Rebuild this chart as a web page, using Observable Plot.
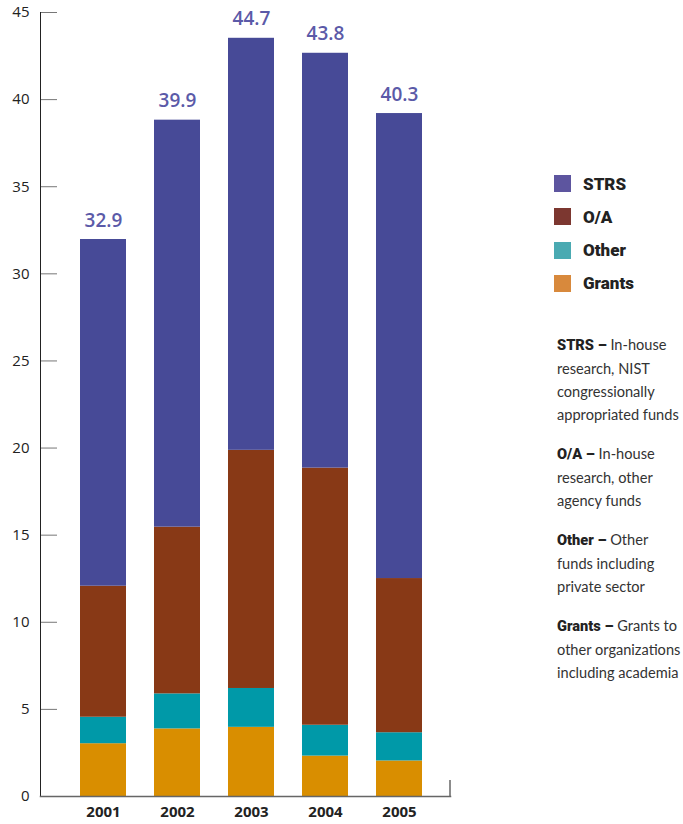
<!DOCTYPE html>
<html><head><meta charset="utf-8">
<script src="https://cdn.jsdelivr.net/npm/d3@7"></script>
<script src="https://cdn.jsdelivr.net/npm/@observablehq/plot@0.6"></script>
<style>
body{margin:0;background:#fff;}
#wrap{position:relative;width:683px;height:824px;overflow:hidden;}
#chart{position:absolute;left:0;top:0;}
#legend{position:absolute;left:554px;top:175px;font-family:Roboto,"Open Sans",sans-serif;}
.lrow{display:flex;align-items:center;height:17px;margin-bottom:16.3px;}
.sw{width:17px;height:17px;margin-right:12px;}
.lt{font-weight:900;font-size:17px;color:#222;}
#notes{position:absolute;left:557px;top:333px;font-family:Lato,"Open Sans",sans-serif;font-size:14.6px;line-height:23px;color:#333;}
.note{margin-bottom:16px;}
.note b{font-family:Roboto,sans-serif;font-weight:900;color:#222;}
</style></head><body>
<div id="wrap"><div id="chart"></div><div id="legend"></div><div id="notes"></div></div>
<script>
const years = ["2001", "2002", "2003", "2004", "2005"];
const grants = [3.03, 3.88, 3.97, 2.32, 2.04];
const other = [1.52, 2.01, 2.23, 1.77, 1.62];
const oa = [7.52, 9.57, 13.67, 14.76, 8.85];
const strs = [19.9, 23.36, 23.65, 23.81, 26.69];
const totalLabels = ["32.9", "39.9", "44.7", "43.8", "40.3"];
const categories = ["Grants", "Other", "O/A", "STRS"];
const barColors = ["#d98e00", "#0099a8", "#883916", "#474a97"];
const legendOrder = ["STRS", "O/A", "Other", "Grants"];
const legendColors = ["#5d559f", "#7c3730", "#4aaab2", "#d8893c"];
const yTicks = [0, 5, 10, 15, 20, 25, 30, 35, 40, 45];
const noteKeys = ["STRS", "O/A", "Other", "Grants"];
const noteLines = [
  ["In-house", "research, NIST", "congressionally", "appropriated funds"],
  ["In-house", "research, other", "agency funds"],
  ["Other", "funds including", "private sector"],
  ["Grants to", "other organizations", "including academia"]
];

const series = [grants, other, oa, strs];
const rows = years.flatMap((yr, i) => categories.map((c, j) => ({year: yr, cat: c, v: series[j][i]})));
const totals = years.map((yr, i) => ({year: yr, total: grants[i] + other[i] + oa[i] + strs[i], label: totalLabels[i]}));

const endTick = (index, scales, values, dims) => {
  const x = dims.width - dims.marginRight;
  const y = dims.height - dims.marginBottom;
  return d3.create("svg:line").attr("x1", x).attr("x2", x).attr("y1", y - 16).attr("y2", y)
    .attr("stroke", "#666").attr("stroke-width", 1.5).node();
};

const chart = Plot.plot({
  width: 452, height: 824,
  marginLeft: 40, marginRight: 2, marginTop: 12, marginBottom: 28,
  style: {fontFamily: "'Open Sans', sans-serif", fontSize: "15px", color: "#222", background: "transparent"},
  x: {domain: years, paddingInner: 0.378, paddingOuter: 0.459, align: 0.588, label: null},
  y: {domain: [0, 45], label: null},
  color: {domain: categories, range: barColors},
  marks: [
    Plot.barY(rows, {x: "year", y: "v", fill: "cat", order: categories,
      style: "filter: drop-shadow(-4px 3px 3px rgba(0,0,0,0.28))"}),
    Plot.text(totals, {x: "year", y: "total", text: "label", dy: -19, fill: "#5b5aa8",
      fontSize: 19, fontWeight: 600, fontFamily: "'Open Sans', sans-serif", style: "letter-spacing:2.3px"}),
    Plot.axisY({ticks: yTicks, tickSize: -17, tickPadding: 28, stroke: "#777", fill: "#222", fontSize: 15, fontWeight: 500}),
    Plot.axisX({tickSize: 0, tickPadding: 10, fontWeight: "bold", fill: "#222", fontSize: 15}),
    Plot.frame({anchor: "left", stroke: "#222"}),
    Plot.frame({anchor: "bottom", stroke: "#666", strokeWidth: 1.5}),
    endTick
  ]
});
document.getElementById("chart").append(chart);

const legend = d3.select("#legend");
legendOrder.forEach((k, i) => {
  const r = legend.append("div").attr("class", "lrow");
  r.append("div").attr("class", "sw").style("background", legendColors[i]);
  r.append("div").attr("class", "lt").text(k);
});
const notes = d3.select("#notes");
noteKeys.forEach((k, i) => {
  const n = notes.append("div").attr("class", "note");
  noteLines[i].forEach((line, j) => {
    const d = n.append("div");
    if (j === 0) { d.append("b").text(k + " \u2013"); d.append("span").text(" " + line); }
    else d.text(line);
  });
});
</script>
</body></html>
